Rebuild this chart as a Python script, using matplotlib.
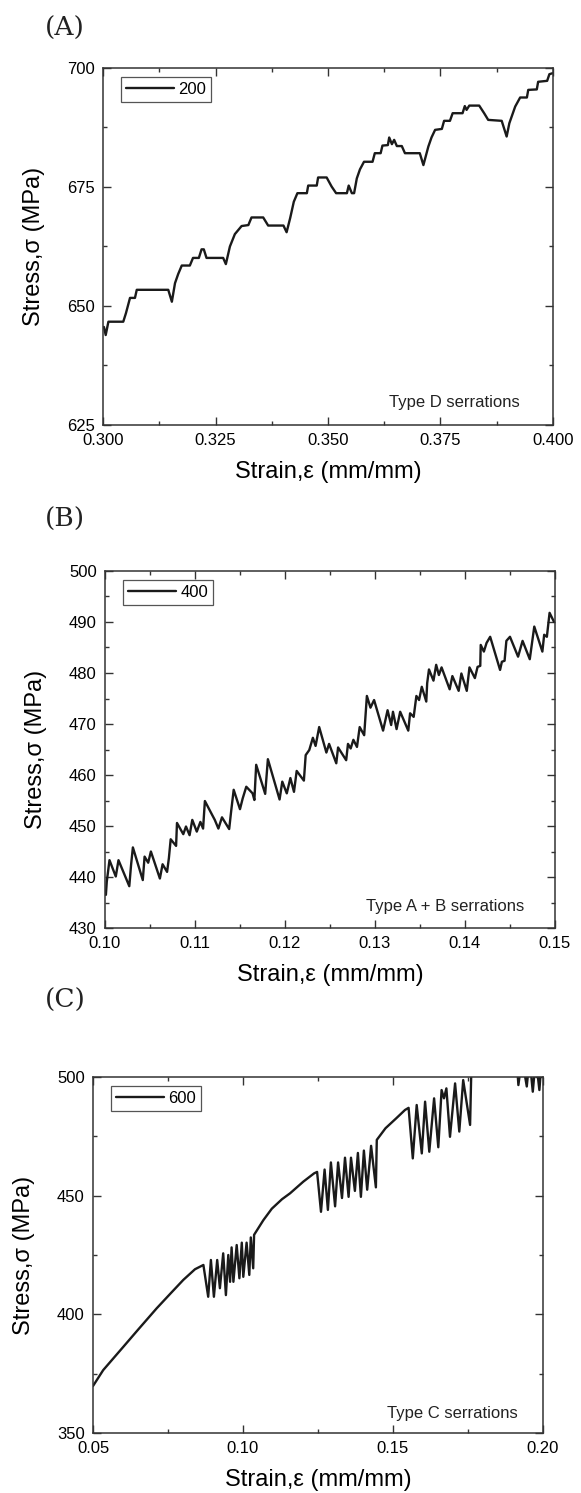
import matplotlib
matplotlib.use("Agg")
import matplotlib.pyplot as plt
from matplotlib.ticker import MultipleLocator, FormatStrFormatter

plt.rcParams['font.family'] = ['Liberation Sans', 'DejaVu Sans']

# ---------------- Panel A (200) ----------------
strain_a = [0.3002, 0.3006, 0.3012, 0.3045, 0.3051, 0.3060, 0.3071, 0.3075, 0.3145, 0.3153,
            0.3160, 0.3167, 0.3175, 0.3193, 0.3200, 0.3213, 0.3219, 0.3224, 0.3230, 0.3267,
            0.3273, 0.3282, 0.3293, 0.3308, 0.3323, 0.3330, 0.3356, 0.3367, 0.3401, 0.3408,
            0.3416, 0.3424, 0.3432, 0.3453, 0.3456, 0.3475, 0.3478, 0.3497, 0.3508, 0.3518,
            0.3542, 0.3546, 0.3553, 0.3558, 0.3564, 0.3571, 0.3580, 0.3599, 0.3604, 0.3617,
            0.3621, 0.3633, 0.3636, 0.3642, 0.3647, 0.3653, 0.3664, 0.3671, 0.3704, 0.3712,
            0.3723, 0.3730, 0.3738, 0.3753, 0.3758, 0.3771, 0.3777, 0.3799, 0.3804, 0.3808,
            0.3814, 0.3836, 0.3847, 0.3856, 0.3886, 0.3897, 0.3903, 0.3916, 0.3927, 0.3942,
            0.3945, 0.3964, 0.3967, 0.3987, 0.3992, 0.3999]
stress_a = [645.6, 643.9, 646.7, 646.7, 648.5, 651.7, 651.7, 653.4, 653.4, 650.9,
            654.8, 656.7, 658.5, 658.5, 660.1, 660.1, 661.9, 661.9, 660.1, 660.1,
            658.8, 662.5, 665.1, 666.8, 667.0, 668.6, 668.6, 666.9, 666.9, 665.5,
            668.5, 671.9, 673.7, 673.7, 675.3, 675.3, 677.0, 677.0, 675.1, 673.7,
            673.7, 675.3, 673.7, 673.7, 676.8, 678.7, 680.3, 680.3, 682.1, 682.1,
            683.7, 683.8, 685.4, 684.0, 684.9, 683.6, 683.6, 682.1, 682.1, 679.6,
            683.5, 685.4, 687.0, 687.2, 688.9, 688.9, 690.5, 690.5, 692.0, 691.2,
            692.1, 692.1, 690.5, 689.1, 688.9, 685.6, 688.4, 691.9, 693.8, 693.8,
            695.4, 695.5, 697.1, 697.3, 698.7, 698.9]

# ---------------- Panel B (400) ----------------
strain_b = [0.1001, 0.1002, 0.1005, 0.1012, 0.1015, 0.1027, 0.1029, 0.1031, 0.1042, 0.1044,
            0.1048, 0.1051, 0.1061, 0.1064, 0.1069, 0.1071, 0.1073, 0.1079, 0.1080, 0.1087,
            0.1090, 0.1094, 0.1097, 0.1102, 0.1106, 0.1109, 0.1111, 0.1119, 0.1122, 0.1126,
            0.1130, 0.1138, 0.1140, 0.1143, 0.1150, 0.1153, 0.1157, 0.1164, 0.1166, 0.1168,
            0.1178, 0.1181, 0.1194, 0.1197, 0.1202, 0.1206, 0.1210, 0.1213, 0.1221, 0.1223,
            0.1227, 0.1231, 0.1234, 0.1238, 0.1246, 0.1249, 0.1257, 0.1259, 0.1268, 0.1270,
            0.1273, 0.1276, 0.1280, 0.1283, 0.1288, 0.1291, 0.1295, 0.1299, 0.1309, 0.1314,
            0.1318, 0.1320, 0.1324, 0.1328, 0.1337, 0.1339, 0.1343, 0.1346, 0.1349, 0.1352,
            0.1357, 0.1358, 0.1360, 0.1365, 0.1368, 0.1371, 0.1374, 0.1383, 0.1386, 0.1393,
            0.1396, 0.1402, 0.1405, 0.1411, 0.1414, 0.1417, 0.14175, 0.1421, 0.1424, 0.1428,
            0.1439, 0.1441, 0.1444, 0.1446, 0.1450, 0.1459, 0.1464, 0.1472, 0.1477, 0.1486,
            0.1488, 0.1491, 0.1494, 0.1499]
stress_b = [436.5, 439.1, 443.3, 440.1, 443.3, 438.2, 442.4, 445.8, 439.4, 444.0,
            442.8, 445.0, 439.7, 442.5, 441.0, 443.7, 447.4, 446.1, 450.6, 448.4,
            449.9, 448.2, 451.2, 448.9, 450.8, 449.5, 454.9, 452.2, 451.2, 449.5,
            451.7, 449.4, 452.6, 457.1, 453.3, 455.4, 457.7, 456.4, 455.1, 462.0,
            456.3, 463.1, 455.2, 458.7, 456.4, 459.4, 456.7, 460.8, 458.9, 463.9,
            464.9, 467.3, 465.7, 469.4, 464.4, 466.1, 462.3, 465.4, 462.9, 466.1,
            465.2, 466.9, 465.5, 469.4, 467.8, 475.5, 473.2, 474.7, 468.7, 472.7,
            469.8, 472.4, 469.0, 472.4, 468.7, 472.1, 471.4, 475.5, 474.7, 477.3,
            474.4, 478.0, 480.7, 478.5, 481.6, 479.6, 481.1, 476.8, 479.4, 476.5,
            479.9, 476.5, 481.1, 479.0, 481.2, 481.4, 485.5, 484.2, 485.9, 487.1,
            480.6, 482.2, 482.4, 486.3, 487.1, 483.2, 486.3, 482.7, 489.1, 484.2,
            487.5, 487.1, 491.8, 490.0]

# ---------------- Panel C (600) ----------------
strain_c = [0.0500, 0.0534, 0.0601, 0.0650, 0.0712, 0.0760, 0.0801, 0.0840, 0.0868,
            0.0884, 0.0893, 0.0903, 0.0914, 0.0923, 0.0934, 0.0943, 0.0951, 0.0957, 0.0962,
            0.0968, 0.0979, 0.0988, 0.0996, 0.1001, 0.1012, 0.1021, 0.1026, 0.1034, 0.1037,
            0.1068, 0.1096, 0.1130, 0.1157, 0.1201, 0.1237,
            0.1247, 0.1260, 0.1272, 0.1283, 0.1293, 0.1307, 0.1317, 0.1330, 0.1340, 0.1352,
            0.1360, 0.1373, 0.1383, 0.1393, 0.1403, 0.1414, 0.1427, 0.1443, 0.1446,
            0.1475, 0.1510, 0.1540,
            0.1552, 0.1566, 0.1579, 0.1596, 0.1607, 0.1621, 0.1637, 0.1651, 0.1662, 0.1670,
            0.1678, 0.1690, 0.1707, 0.1721, 0.1734, 0.1757, 0.1762,
            0.1912, 0.1918, 0.1930, 0.1946, 0.1955, 0.1966, 0.1976, 0.1988, 0.1996, 0.2000]
stress_c = [369.8, 376.5, 386.3, 393.5, 402.5, 409.0, 414.5, 419.0, 420.8,
            407.4, 422.9, 407.4, 422.9, 411.0, 425.7, 408.1, 425.0, 413.7, 428.2,
            413.7, 429.2, 415.2, 430.2, 415.8, 430.2, 416.6, 432.4, 419.4, 433.5,
            439.7, 444.5, 448.5, 451.0, 455.9, 459.4,
            460.0, 443.2, 461.0, 444.0, 464.0, 445.5, 464.0, 449.0, 466.0, 449.5,
            466.0, 452.0, 468.0, 449.5, 469.0, 452.5, 471.0, 453.5, 473.5,
            478.4, 482.5, 486.1,
            487.0, 465.7, 488.2, 467.8, 489.6, 468.5, 491.0, 470.4, 494.5, 491.0,
            495.2, 474.8, 497.3, 477.0, 498.7, 479.8, 508.0,
            508.0, 496.6, 508.0, 496.0, 508.0, 493.8, 508.0, 494.5, 508.0, 505.0]

LINE = '#1a1a1a'

fig = plt.figure(figsize=(5.81, 14.93), dpi=100)

panels = [
    dict(rect=[0.1773, 0.71534, 0.7745, 0.23912], x=strain_a, y=stress_a, label='200',
         xlim=(0.300, 0.400), ylim=(625, 700), xmaj=0.025, xmin=0.0125, ymaj=25, ymin=12.5,
         xfmt='%.3f', note='Type D serrations', nx=0.927, ny=0.062, letter='(A)', ly=28),
    dict(rect=[0.1807, 0.37843, 0.7745, 0.23912], x=strain_b, y=stress_b, label='400',
         xlim=(0.10, 0.15), ylim=(430, 500), xmaj=0.01, xmin=0.005, ymaj=10, ymin=5,
         xfmt='%.2f', note='Type A + B serrations', nx=0.931, ny=0.059, letter='(B)', ly=519),
    dict(rect=[0.16007, 0.04019, 0.7745, 0.23845], x=strain_c, y=stress_c, label='600',
         xlim=(0.05, 0.20), ylim=(350, 500), xmaj=0.05, xmin=0.025, ymaj=50, ymin=25,
         xfmt='%.2f', note='Type C serrations', nx=0.944, ny=0.056, letter='(C)', ly=1000),
]

for p in panels:
    ax = fig.add_axes(p['rect'])
    ax.plot(p['x'], p['y'], color=LINE, lw=1.7, label=p['label'],
            solid_joinstyle='round', solid_capstyle='round')
    ax.set_xlim(*p['xlim'])
    ax.set_ylim(*p['ylim'])
    ax.xaxis.set_major_locator(MultipleLocator(p['xmaj']))
    ax.xaxis.set_minor_locator(MultipleLocator(p['xmin']))
    ax.yaxis.set_major_locator(MultipleLocator(p['ymaj']))
    ax.yaxis.set_minor_locator(MultipleLocator(p['ymin']))
    ax.xaxis.set_major_formatter(FormatStrFormatter(p['xfmt']))
    ax.tick_params(which='both', direction='in', top=True, right=True, width=1.0,
                   color='#333333', labelsize=12)
    ax.tick_params(which='major', length=5.5)
    ax.tick_params(which='minor', length=3)
    ax.tick_params(axis='x', which='major', pad=6)
    ax.tick_params(axis='y', which='major', pad=6)
    for s in ax.spines.values():
        s.set_linewidth(1.1)
        s.set_color('#333333')
    ax.set_xlabel('Strain,ε (mm/mm)', fontsize=17, labelpad=9)
    ax.set_ylabel('Stress,σ (MPa)', fontsize=17, labelpad=16)
    leg = ax.legend(loc='upper left', bbox_to_anchor=(0.04, 0.975), fontsize=12,
                    handlelength=2.9, handletextpad=0.25, borderpad=0.3,
                    fancybox=False, framealpha=1, edgecolor='#555555',
                    borderaxespad=0)
    leg.get_frame().set_linewidth(0.9)
    ax.text(p['nx'], p['ny'], p['note'], transform=ax.transAxes, ha='right', va='center',
            fontsize=12, color='#222222')
    fig.text(45 / 581, 1 - p['ly'] / 1493, p['letter'], ha='left', va='center',
             fontsize=19, family='DejaVu Serif', color='#222222')

fig.savefig('out.png', dpi=100)
